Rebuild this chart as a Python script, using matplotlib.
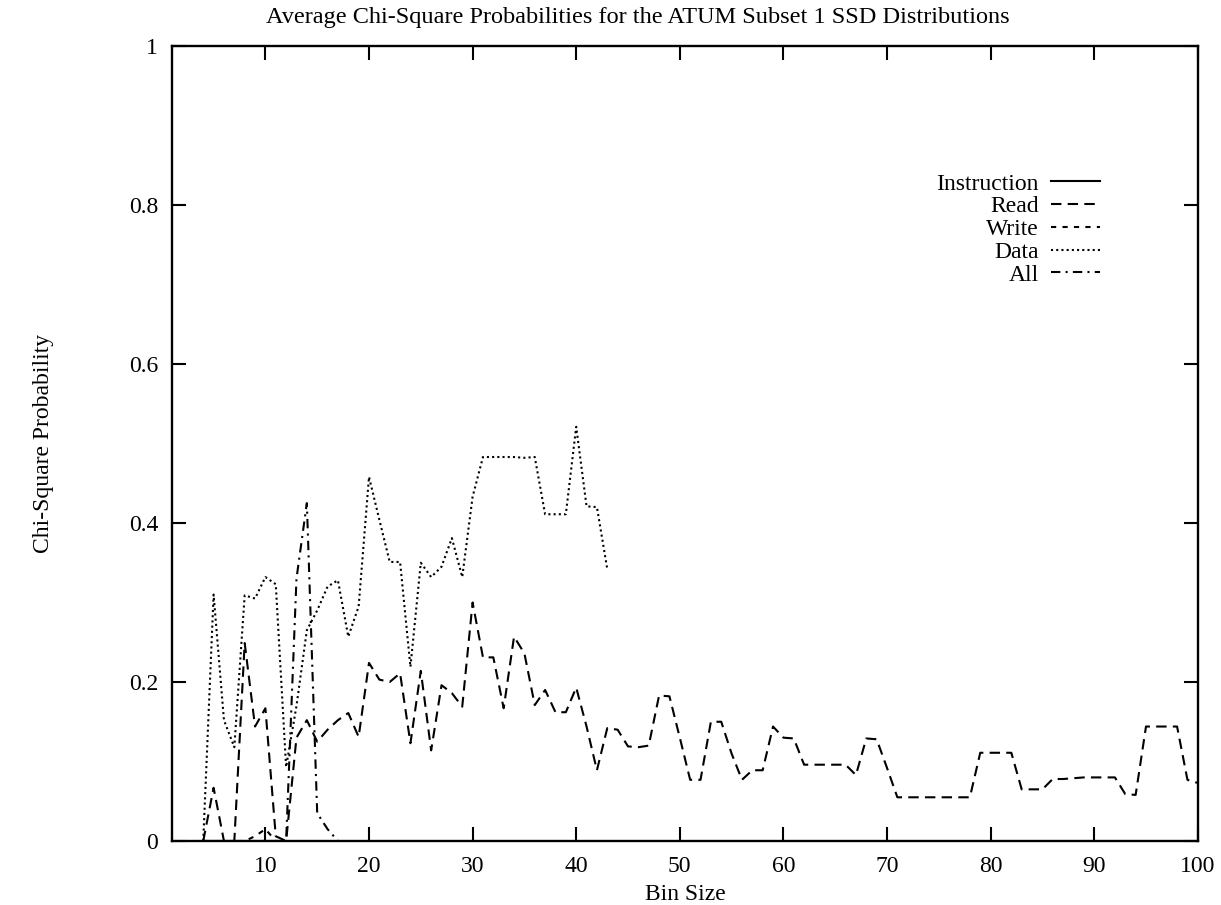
import matplotlib
matplotlib.use("Agg")
import matplotlib.pyplot as plt

plt.rcParams['font.family'] = ['Liberation Serif', 'DejaVu Serif']

# bin sizes
bins = list(range(4, 101))

# Read (dashed)
read_vals = [0.0, 0.067, 0.0, 0.0, 0.249, 0.144, 0.167, 0.006, 0.0, 0.13,
             0.152, 0.125, 0.14, 0.152, 0.161, 0.131, 0.224, 0.203, 0.2, 0.211,
             0.123, 0.214, 0.114, 0.196, 0.186, 0.169, 0.30, 0.231, 0.231, 0.167,
             0.257, 0.236, 0.171, 0.19, 0.162, 0.162, 0.193, 0.144, 0.089, 0.142,
             0.14, 0.119, 0.118, 0.12, 0.183, 0.182, 0.13, 0.077, 0.077, 0.15,
             0.15, 0.11, 0.077, 0.089, 0.089, 0.144, 0.13, 0.129, 0.096, 0.096,
             0.096, 0.096, 0.096, 0.083, 0.129, 0.128, 0.092, 0.055, 0.055, 0.055,
             0.055, 0.055, 0.055, 0.055, 0.055, 0.111, 0.111, 0.111, 0.111, 0.065,
             0.065, 0.065, 0.078, 0.078, 0.079, 0.08, 0.08, 0.08, 0.08, 0.059,
             0.058, 0.144, 0.144, 0.144, 0.144, 0.077, 0.073]

# Data (dotted), bins 4..43
data_bins = list(range(4, 44))
data_vals = [0.0, 0.31, 0.152, 0.118, 0.309, 0.305, 0.332, 0.323, 0.093, 0.17,
             0.265, 0.29, 0.32, 0.328, 0.257, 0.295, 0.458, 0.404, 0.351, 0.351,
             0.219, 0.35, 0.332, 0.345, 0.381, 0.332, 0.433, 0.483, 0.483, 0.483,
             0.483, 0.482, 0.483, 0.411, 0.411, 0.411, 0.521, 0.421, 0.42, 0.342]

# All (dash-dot), bins 4..17
all_bins = list(range(4, 18))
all_vals = [0.0, 0.0, 0.0, 0.0, 0.0, 0.0, 0.0, 0.0, 0.0, 0.33, 0.425, 0.035, 0.015, 0.0]

# Write (short dashes), bins 4..12
write_bins = list(range(4, 13))
write_vals = [0.0, 0.0, 0.0, 0.0, 0.0, 0.006, 0.015, 0.0, 0.0]

# Instruction (solid), bins 4..12
instr_bins = list(range(4, 13))
instr_vals = [0.0, 0.0, 0.0, 0.0, 0.0, 0.0, 0.0, 0.0, 0.0]

fig = plt.figure(figsize=(12.21, 9.05), dpi=100)
ax = fig.add_axes([0.141, 0.0707, 0.840, 0.8785])

lw = 1.5
ax.plot(instr_bins, instr_vals, color='black', lw=lw, label='Instruction')
ax.plot(bins, read_vals, color='black', lw=lw, dashes=(5, 3), label='Read')
ax.plot(write_bins, write_vals, color='black', lw=lw, dashes=(2.5, 3), label='Write')
ax.plot(data_bins, data_vals, color='black', lw=lw, dashes=(1, 1.5), label='Data')
ax.plot(all_bins, all_vals, color='black', lw=lw, dashes=(4.5, 2.5, 1, 2.5), label='All')

fs = 17
ax.set_xlim(1, 100)
ax.set_ylim(0, 1)
ax.set_xticks(range(10, 101, 10))
ax.set_yticks([0, 0.2, 0.4, 0.6, 0.8, 1.0])
ax.set_yticklabels(['0', '0.2', '0.4', '0.6', '0.8', '1'])
ax.tick_params(direction='in', length=10, width=1.5, top=True, right=True,
               labelsize=fs, pad=10)
ax.tick_params(axis='x', pad=11)
for s in ax.spines.values():
    s.set_linewidth(1.7)

ax.set_xlabel('Bin Size', fontsize=fs, labelpad=5)
ax.set_ylabel('Chi-Square Probability', fontsize=fs, labelpad=54)
fig.text(0.522, 0.981, 'Average Chi-Square Probabilities for the ATUM Subset 1 SSD Distributions',
         ha='center', va='center', fontsize=17.5)

ax.legend(loc='upper right', bbox_to_anchor=(0.905, 0.84), frameon=False,
          markerfirst=False, fontsize=fs, handlelength=2.1, handletextpad=0.5,
          labelspacing=0.05, borderpad=0, borderaxespad=0)

fig.savefig('out.png', dpi=100)
